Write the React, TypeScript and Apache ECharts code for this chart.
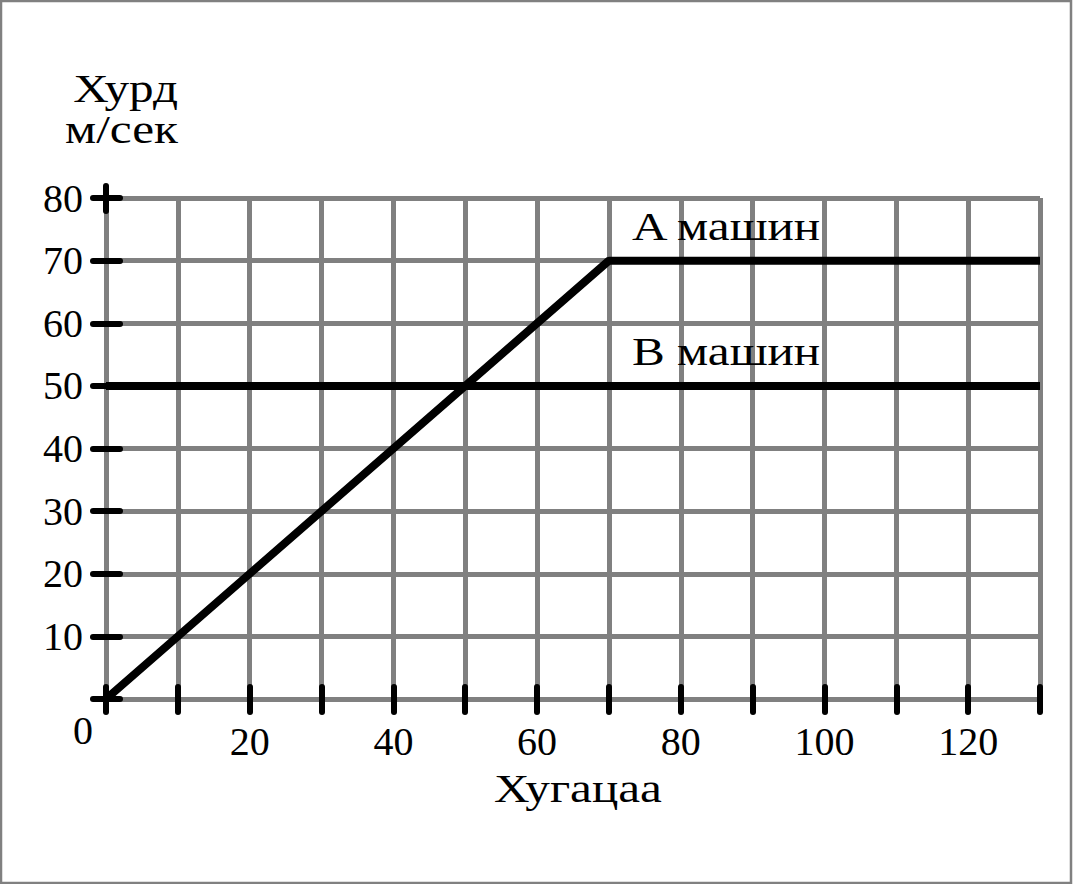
import React, { useEffect, useRef } from "react";
import * as echarts from "echarts";

// ---- data ----
const xMin = 0;
const xMax = 130;
const xStep = 10;
const yMin = 0;
const yMax = 80;
const yStep = 10;

const carATime = [0, 70, 130];
const carASpeed = [0, 70, 70];
const carBTime = [0, 130];
const carBSpeed = [50, 50];

const xLabelValues = [20, 40, 60, 80, 100, 120];
const yLabelValues = [10, 20, 30, 40, 50, 60, 70, 80];

const carNames = ["A машин", "B машин"];
const yTitleLines = ["Хурд", "м/сек"];
const xTitle = "Хугацаа";
const originLabel = "0";

// annotation anchor positions (data coords)
const carLabelAnchors: [number, number][] = [
  [73.2, 75.4],
  [73.2, 55.5],
];

const FONT = '"Liberation Serif", "DejaVu Serif", serif';
const GRID_COLOR = "#808080";
const FS = 40;
const WORD_STRETCH = 1.23;

export default function App() {
  const ref = useRef<HTMLDivElement>(null);

  useEffect(() => {
    if (!ref.current) return;
    const chart = echarts.init(ref.current, null, { renderer: "svg" });

    const tickStyle = { color: "#000", width: 6, cap: "round" as const };
    const labelStyle = { fontFamily: FONT, fontSize: FS, color: "#000" };

    const option: any = {
      animation: false,
      backgroundColor: "#fff",
      grid: { left: 106, right: 33, top: 198, bottom: 185, containLabel: false },
      xAxis: [
        {
          type: "value",
          min: xMin,
          max: xMax,
          interval: xStep,
          position: "bottom",
          axisLine: { show: true, onZero: false, lineStyle: { color: GRID_COLOR, width: 5 } },
          axisTick: { show: true, inside: true, length: 12, lineStyle: tickStyle },
          axisLabel: { show: false },
          splitLine: { show: true, lineStyle: { color: GRID_COLOR, width: 5 } },
        },
        {
          type: "value",
          min: xMin,
          max: xMax,
          interval: xStep,
          position: "bottom",
          axisLine: { show: false, onZero: false },
          axisTick: { show: true, inside: false, length: 13, lineStyle: tickStyle },
          axisLabel: {
            show: true,
            margin: 22,
            ...labelStyle,
            formatter: (v: number) => (xLabelValues.includes(v) ? String(v) : ""),
          },
          splitLine: { show: false },
        },
      ],
      yAxis: [
        {
          type: "value",
          min: yMin,
          max: yMax,
          interval: yStep,
          position: "left",
          axisLine: { show: true, onZero: false, lineStyle: { color: GRID_COLOR, width: 5 } },
          axisTick: { show: true, inside: true, length: 14, lineStyle: tickStyle },
          axisLabel: { show: false },
          splitLine: { show: true, lineStyle: { color: GRID_COLOR, width: 5 } },
        },
        {
          type: "value",
          min: yMin,
          max: yMax,
          interval: yStep,
          position: "left",
          axisLine: { show: false, onZero: false },
          axisTick: { show: true, inside: false, length: 13, lineStyle: tickStyle },
          axisLabel: {
            show: true,
            margin: 23,
            ...labelStyle,
            formatter: (v: number) => (yLabelValues.includes(v) ? String(v) : ""),
          },
          splitLine: { show: false },
        },
      ],
      series: [
        {
          type: "line",
          name: carNames[0],
          xAxisIndex: 0,
          yAxisIndex: 0,
          data: carATime.map((t, i) => [t, carASpeed[i]]),
          symbol: "none",
          lineStyle: { color: "#000", width: 8 },
          z: 5,
        },
        {
          type: "line",
          name: carNames[1],
          xAxisIndex: 0,
          yAxisIndex: 0,
          data: carBTime.map((t, i) => [t, carBSpeed[i]]),
          symbol: "none",
          lineStyle: { color: "#000", width: 8 },
          z: 5,
        },
      ],
    };
    chart.setOption(option);

    const px = (p: [number, number]) =>
      chart.convertToPixel({ xAxisIndex: 0, yAxisIndex: 0 }, p) as number[];

    const origin = px([xMin, yMin]);
    const topLeft = px([xMin, yMax]);
    const textFont = `${FS}px ${FONT}`;

    const word = (text: string, x: number, y: number, align: string) => ({
      type: "text",
      x,
      y,
      scaleX: WORD_STRETCH,
      style: { text, font: textFont, fill: "#000", align, verticalAlign: "middle" },
    });

    const graphics: any[] = [
      {
        type: "rect",
        shape: { x: 1, y: 1, width: 1070, height: 882 },
        style: { fill: "none", stroke: GRID_COLOR, lineWidth: 2.5 },
        silent: true,
      },
      {
        type: "line",
        shape: { x1: topLeft[0], y1: topLeft[1] - 12, x2: topLeft[0], y2: topLeft[1] + 13 },
        style: { stroke: "#000", lineWidth: 6, lineCap: "round" },
        z: 10,
      },
      {
        type: "text",
        x: origin[0] - 23,
        y: origin[1] + 31,
        style: { text: originLabel, font: textFont, fill: "#000", align: "center", verticalAlign: "middle" },
      },
      word(yTitleLines[0], 178, 88.5, "right"),
      word(yTitleLines[1], 178, 129.5, "right"),
      word(xTitle, 578, origin[1] + 89.5, "center"),
      ...carNames.map((name, i) => {
        const p = px(carLabelAnchors[i]);
        return word(name, p[0], p[1], "left");
      }),
    ];
    chart.setOption({ graphic: graphics });

    return () => chart.dispose();
  }, []);

  return (
    <div
      ref={ref}
      style={{ position: "fixed", left: 0, top: 0, width: 1073, height: 884, background: "#fff" }}
    />
  );
}
